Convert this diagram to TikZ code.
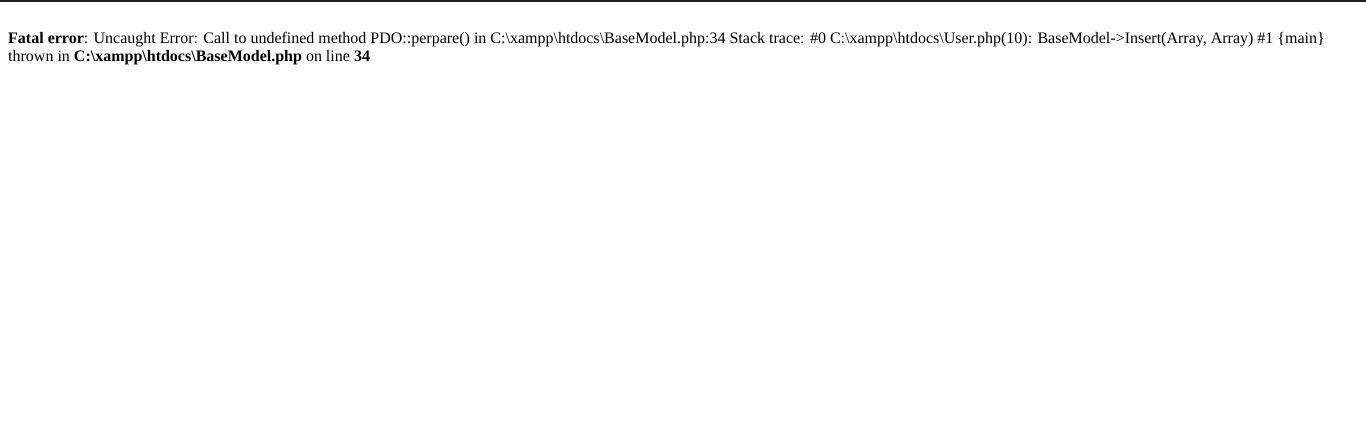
\documentclass[tikz,border=0pt]{standalone}
\usepackage{fontspec}
\setmainfont{Liberation Serif}
\definecolor{barcol}{HTML}{222222}
\tikzset{msg/.style={inner sep=0pt, anchor=base west, font=\fontsize{16}{18}\selectfont}}
\begin{document}
\begin{tikzpicture}[x=1pt,y=1pt]
\useasboundingbox (0,0) rectangle (1366,-447);
\fill[white] (0,0) rectangle (1366,-447);
\fill[barcol] (0,0) rectangle (1366,-2);
\node[msg] (line1) at (8,-43) {\textbf{Fatal error}: Uncaught Error: Call to undefined method PDO::perpare() in C:\textbackslash xampp\textbackslash htdocs\textbackslash BaseModel.php:34 Stack trace: \#0 C:\textbackslash xampp\textbackslash htdocs\textbackslash User.php(10): BaseModel->Insert(Array, Array) \#1 \{main\}};
\node[msg] (line2) at (8,-61) {thrown in \textbf{C:\textbackslash xampp\textbackslash htdocs\textbackslash BaseModel.php} on line \textbf{34}};
\end{tikzpicture}
\end{document}
